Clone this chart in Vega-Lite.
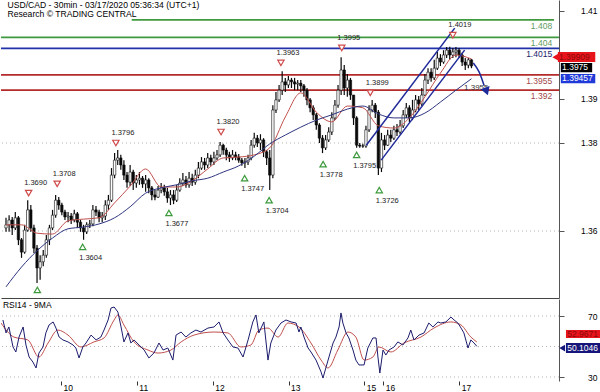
{
"$schema":"https://vega.github.io/schema/vega-lite/v6.json",
"padding":0,
"spacing":1,
"bounds":"flush",
"background":"white",
"config":{"view":{"stroke":null},"font":"Liberation Sans"},
"datasets":{
"candles":[
{"t":0,"o":1.3607,"h":1.3630,"l":1.3598,"c":1.3614},{"t":1,"o":1.3614,"h":1.3636,"l":1.3598,"c":1.3625},{"t":2,"o":1.3625,"h":1.3632,"l":1.3591,"c":1.3607},{"t":3,"o":1.3607,"h":1.3643,"l":1.3602,"c":1.3630},{"t":4,"o":1.3630,"h":1.3634,"l":1.3568,"c":1.3580},{"t":5,"o":1.3580,"h":1.3584,"l":1.3539,"c":1.3552},{"t":6,"o":1.3552,"h":1.3614,"l":1.3548,"c":1.3602},{"t":7,"o":1.3602,"h":1.3670,"l":1.3598,"c":1.3648},{"t":8,"o":1.3648,"h":1.3659,"l":1.3598,"c":1.3607},{"t":9,"o":1.3607,"h":1.3614,"l":1.3550,"c":1.3561},
{"t":10,"o":1.3561,"h":1.3568,"l":1.3482,"c":1.3516},{"t":11,"o":1.3516,"h":1.3545,"l":1.3489,"c":1.3530},{"t":12,"o":1.3530,"h":1.3557,"l":1.3520,"c":1.3545},{"t":13,"o":1.3545,"h":1.3591,"l":1.3539,"c":1.3580},{"t":14,"o":1.3580,"h":1.3614,"l":1.3568,"c":1.3607},{"t":15,"o":1.3607,"h":1.3648,"l":1.3602,"c":1.3636},{"t":16,"o":1.3636,"h":1.3682,"l":1.3630,"c":1.3670},{"t":17,"o":1.3670,"h":1.3677,"l":1.3648,"c":1.3659},{"t":18,"o":1.3659,"h":1.3664,"l":1.3636,"c":1.3643},{"t":19,"o":1.3643,"h":1.3648,"l":1.3625,"c":1.3632},
{"t":20,"o":1.3632,"h":1.3643,"l":1.3620,"c":1.3634},{"t":21,"o":1.3634,"h":1.3641,"l":1.3616,"c":1.3625},{"t":22,"o":1.3625,"h":1.3648,"l":1.3620,"c":1.3639},{"t":23,"o":1.3639,"h":1.3643,"l":1.3607,"c":1.3620},{"t":24,"o":1.3620,"h":1.3625,"l":1.3598,"c":1.3607},{"t":25,"o":1.3607,"h":1.3614,"l":1.3580,"c":1.3598},{"t":26,"o":1.3598,"h":1.3620,"l":1.3593,"c":1.3614},{"t":27,"o":1.3614,"h":1.3625,"l":1.3607,"c":1.3616},{"t":28,"o":1.3616,"h":1.3659,"l":1.3611,"c":1.3648},{"t":29,"o":1.3648,"h":1.3657,"l":1.3634,"c":1.3643},
{"t":30,"o":1.3643,"h":1.3648,"l":1.3620,"c":1.3630},{"t":31,"o":1.3630,"h":1.3643,"l":1.3620,"c":1.3634},{"t":32,"o":1.3634,"h":1.3670,"l":1.3625,"c":1.3659},{"t":33,"o":1.3659,"h":1.3682,"l":1.3648,"c":1.3670},{"t":34,"o":1.3670,"h":1.3743,"l":1.3666,"c":1.3727},{"t":35,"o":1.3727,"h":1.3777,"l":1.3720,"c":1.3761},{"t":36,"o":1.3761,"h":1.3784,"l":1.3750,"c":1.3766},{"t":37,"o":1.3766,"h":1.3773,"l":1.3739,"c":1.3750},{"t":38,"o":1.3750,"h":1.3761,"l":1.3716,"c":1.3727},{"t":39,"o":1.3727,"h":1.3734,"l":1.3698,"c":1.3711},
{"t":40,"o":1.3711,"h":1.3750,"l":1.3702,"c":1.3734},{"t":41,"o":1.3734,"h":1.3739,"l":1.3693,"c":1.3709},{"t":42,"o":1.3709,"h":1.3727,"l":1.3698,"c":1.3716},{"t":43,"o":1.3716,"h":1.3734,"l":1.3705,"c":1.3720},{"t":44,"o":1.3720,"h":1.3725,"l":1.3698,"c":1.3707},{"t":45,"o":1.3707,"h":1.3727,"l":1.3689,"c":1.3716},{"t":46,"o":1.3716,"h":1.3720,"l":1.3686,"c":1.3698},{"t":47,"o":1.3698,"h":1.3702,"l":1.3670,"c":1.3682},{"t":48,"o":1.3682,"h":1.3693,"l":1.3670,"c":1.3677},{"t":49,"o":1.3677,"h":1.3702,"l":1.3675,"c":1.3693},
{"t":50,"o":1.3693,"h":1.3709,"l":1.3686,"c":1.3698},{"t":51,"o":1.3698,"h":1.3705,"l":1.3680,"c":1.3689},{"t":52,"o":1.3689,"h":1.3698,"l":1.3664,"c":1.3675},{"t":53,"o":1.3675,"h":1.3693,"l":1.3659,"c":1.3682},{"t":54,"o":1.3682,"h":1.3693,"l":1.3661,"c":1.3670},{"t":55,"o":1.3670,"h":1.3705,"l":1.3666,"c":1.3693},{"t":56,"o":1.3693,"h":1.3720,"l":1.3689,"c":1.3709},{"t":57,"o":1.3709,"h":1.3732,"l":1.3702,"c":1.3716},{"t":58,"o":1.3716,"h":1.3725,"l":1.3698,"c":1.3705},{"t":59,"o":1.3705,"h":1.3734,"l":1.3698,"c":1.3720},
{"t":60,"o":1.3720,"h":1.3730,"l":1.3702,"c":1.3711},{"t":61,"o":1.3711,"h":1.3739,"l":1.3705,"c":1.3727},{"t":62,"o":1.3727,"h":1.3757,"l":1.3720,"c":1.3743},{"t":63,"o":1.3743,"h":1.3768,"l":1.3739,"c":1.3757},{"t":64,"o":1.3757,"h":1.3766,"l":1.3739,"c":1.3750},{"t":65,"o":1.3750,"h":1.3777,"l":1.3743,"c":1.3766},{"t":66,"o":1.3766,"h":1.3773,"l":1.3748,"c":1.3757},{"t":67,"o":1.3757,"h":1.3780,"l":1.3750,"c":1.3766},{"t":68,"o":1.3766,"h":1.3784,"l":1.3761,"c":1.3773},{"t":69,"o":1.3773,"h":1.3802,"l":1.3768,"c":1.3795},
{"t":70,"o":1.3795,"h":1.3798,"l":1.3773,"c":1.3784},{"t":71,"o":1.3784,"h":1.3789,"l":1.3761,"c":1.3773},{"t":72,"o":1.3773,"h":1.3780,"l":1.3757,"c":1.3766},{"t":73,"o":1.3766,"h":1.3784,"l":1.3761,"c":1.3773},{"t":74,"o":1.3773,"h":1.3780,"l":1.3761,"c":1.3768},{"t":75,"o":1.3768,"h":1.3775,"l":1.3755,"c":1.3761},{"t":76,"o":1.3761,"h":1.3766,"l":1.3748,"c":1.3755},{"t":77,"o":1.3755,"h":1.3766,"l":1.3743,"c":1.3757},{"t":78,"o":1.3757,"h":1.3773,"l":1.3750,"c":1.3766},{"t":79,"o":1.3766,"h":1.3807,"l":1.3761,"c":1.3795},
{"t":80,"o":1.3795,"h":1.3823,"l":1.3789,"c":1.3811},{"t":81,"o":1.3811,"h":1.3818,"l":1.3791,"c":1.3800},{"t":82,"o":1.3800,"h":1.3820,"l":1.3784,"c":1.3807},{"t":83,"o":1.3807,"h":1.3811,"l":1.3768,"c":1.3780},{"t":84,"o":1.3780,"h":1.3784,"l":1.3750,"c":1.3766},{"t":85,"o":1.3766,"h":1.3784,"l":1.3693,"c":1.3727},{"t":86,"o":1.3727,"h":1.3886,"l":1.3720,"c":1.3875},{"t":87,"o":1.3875,"h":1.3916,"l":1.3868,"c":1.3898},{"t":88,"o":1.3898,"h":1.3932,"l":1.3893,"c":1.3920},{"t":89,"o":1.3920,"h":1.3963,"l":1.3909,"c":1.3939},
{"t":90,"o":1.3939,"h":1.3948,"l":1.3916,"c":1.3932},{"t":91,"o":1.3932,"h":1.3952,"l":1.3925,"c":1.3943},{"t":92,"o":1.3943,"h":1.3948,"l":1.3925,"c":1.3939},{"t":93,"o":1.3939,"h":1.3948,"l":1.3920,"c":1.3934},{"t":94,"o":1.3934,"h":1.3943,"l":1.3920,"c":1.3936},{"t":95,"o":1.3936,"h":1.3943,"l":1.3916,"c":1.3930},{"t":96,"o":1.3930,"h":1.3934,"l":1.3905,"c":1.3920},{"t":97,"o":1.3920,"h":1.3925,"l":1.3886,"c":1.3898},{"t":98,"o":1.3898,"h":1.3902,"l":1.3870,"c":1.3880},{"t":99,"o":1.3880,"h":1.3886,"l":1.3852,"c":1.3864},
{"t":100,"o":1.3864,"h":1.3868,"l":1.3830,"c":1.3841},{"t":101,"o":1.3841,"h":1.3845,"l":1.3800,"c":1.3811},{"t":102,"o":1.3811,"h":1.3818,"l":1.3777,"c":1.3789},{"t":103,"o":1.3789,"h":1.3818,"l":1.3784,"c":1.3807},{"t":104,"o":1.3807,"h":1.3836,"l":1.3802,"c":1.3825},{"t":105,"o":1.3825,"h":1.3870,"l":1.3818,"c":1.3857},{"t":106,"o":1.3857,"h":1.3898,"l":1.3852,"c":1.3886},{"t":107,"o":1.3886,"h":1.3932,"l":1.3880,"c":1.3920},{"t":108,"o":1.3920,"h":1.3995,"l":1.3909,"c":1.3966},{"t":109,"o":1.3966,"h":1.3977,"l":1.3909,"c":1.3925},
{"t":110,"o":1.3925,"h":1.3957,"l":1.3905,"c":1.3943},{"t":111,"o":1.3943,"h":1.3948,"l":1.3898,"c":1.3909},{"t":112,"o":1.3909,"h":1.3909,"l":1.3841,"c":1.3857},{"t":113,"o":1.3857,"h":1.3861,"l":1.3789,"c":1.3795},{"t":114,"o":1.3795,"h":1.3800,"l":1.3789,"c":1.3793},{"t":115,"o":1.3793,"h":1.3798,"l":1.3789,"c":1.3793},{"t":116,"o":1.3793,"h":1.3839,"l":1.3789,"c":1.3830},{"t":117,"o":1.3830,"h":1.3886,"l":1.3825,"c":1.3875},{"t":118,"o":1.3875,"h":1.3898,"l":1.3870,"c":1.3886},{"t":119,"o":1.3886,"h":1.3891,"l":1.3857,"c":1.3870},
{"t":120,"o":1.3870,"h":1.3875,"l":1.3727,"c":1.3743},{"t":121,"o":1.3743,"h":1.3823,"l":1.3734,"c":1.3807},{"t":122,"o":1.3807,"h":1.3818,"l":1.3784,"c":1.3795},{"t":123,"o":1.3795,"h":1.3830,"l":1.3793,"c":1.3818},{"t":124,"o":1.3818,"h":1.3830,"l":1.3802,"c":1.3811},{"t":125,"o":1.3811,"h":1.3839,"l":1.3807,"c":1.3830},{"t":126,"o":1.3830,"h":1.3843,"l":1.3816,"c":1.3825},{"t":127,"o":1.3825,"h":1.3852,"l":1.3820,"c":1.3839},{"t":128,"o":1.3839,"h":1.3875,"l":1.3834,"c":1.3864},{"t":129,"o":1.3864,"h":1.3891,"l":1.3857,"c":1.3880},
{"t":130,"o":1.3880,"h":1.3886,"l":1.3848,"c":1.3857},{"t":131,"o":1.3857,"h":1.3898,"l":1.3852,"c":1.3875},{"t":132,"o":1.3875,"h":1.3909,"l":1.3870,"c":1.3898},{"t":133,"o":1.3898,"h":1.3907,"l":1.3875,"c":1.3889},{"t":134,"o":1.3889,"h":1.3925,"l":1.3884,"c":1.3909},{"t":135,"o":1.3909,"h":1.3957,"l":1.3907,"c":1.3943},{"t":136,"o":1.3943,"h":1.3970,"l":1.3934,"c":1.3961},{"t":137,"o":1.3961,"h":1.3970,"l":1.3939,"c":1.3948},{"t":138,"o":1.3948,"h":1.3989,"l":1.3943,"c":1.3970},{"t":139,"o":1.3970,"h":1.4007,"l":1.3966,"c":1.3993},
{"t":140,"o":1.3993,"h":1.4002,"l":1.3975,"c":1.3984},{"t":141,"o":1.3984,"h":1.4011,"l":1.3980,"c":1.4000},{"t":142,"o":1.4000,"h":1.4018,"l":1.3993,"c":1.4011},{"t":143,"o":1.4011,"h":1.4019,"l":1.3989,"c":1.4000},{"t":144,"o":1.4000,"h":1.4016,"l":1.3993,"c":1.4007},{"t":145,"o":1.4007,"h":1.4018,"l":1.3995,"c":1.4011},{"t":146,"o":1.4011,"h":1.4016,"l":1.3993,"c":1.4000},{"t":147,"o":1.4000,"h":1.4005,"l":1.3975,"c":1.3984},{"t":148,"o":1.3984,"h":1.3993,"l":1.3966,"c":1.3977},{"t":149,"o":1.3977,"h":1.3993,"l":1.3970,"c":1.3989},
{"t":150,"o":1.3989,"h":1.3991,"l":1.3970,"c":1.3975}
],
"ma":[
{"t":0,"a":1.3614,"b":1.3473},{"t":5,"a":1.3614,"b":1.3518},{"t":10,"a":1.3595,"b":1.3555},{"t":15,"a":1.3593,"b":1.3584},{"t":20,"a":1.3623,"b":1.3605},{"t":25,"a":1.3627,"b":1.3609},{"t":30,"a":1.3630,"b":1.3616},{"t":35,"a":1.3664,"b":1.3630},{"t":40,"a":1.3702,"b":1.3655},{"t":45,"a":1.3741,"b":1.3686},{"t":50,"a":1.3700,"b":1.3698},{"t":55,"a":1.3700,"b":1.3705},{"t":60,"a":1.3714,"b":1.3714},{"t":65,"a":1.3741,"b":1.3720},{"t":70,"a":1.3766,"b":1.3734},{"t":75,"a":1.3768,"b":1.3748},{"t":80,"a":1.3773,"b":1.3770},{"t":85,"a":1.3789,"b":1.3798},{"t":90,"a":1.3859,"b":1.3818},{"t":95,"a":1.3914,"b":1.3836},{"t":100,"a":1.3870,"b":1.3852},{"t":105,"a":1.3848,"b":1.3864},{"t":110,"a":1.3884,"b":1.3877},{"t":115,"a":1.3880,"b":1.3884},{"t":120,"a":1.3839,"b":1.3866},{"t":125,"a":1.3834,"b":1.3857},{"t":130,"a":1.3857,"b":1.3857},{"t":135,"a":1.3905,"b":1.3868},{"t":140,"a":1.3959,"b":1.3893},{"t":145,"a":1.4000,"b":1.3920},{"t":150,"a":1.3991,"b":1.3946}
],
"levels":[{"v":1.408,"label":"1.408","kind":"g"},{"v":1.404,"label":"1.404","kind":"g"},{"v":1.4015,"label":"1.4015","kind":"b"},{"v":1.3955,"label":"1.3955","kind":"r"},{"v":1.392,"label":"1.392","kind":"r"}],
"peaks":[{"t":7.3,"v":1.3686,"label":"1.3690"},{"t":16.5,"v":1.3707,"label":"1.3708"},{"t":35.4,"v":1.3800,"label":"1.3796"},{"t":69.3,"v":1.3825,"label":"1.3820"},{"t":88.6,"v":1.3982,"label":"1.3963"},{"t":108.2,"v":1.4016,"label":"1.3995"},{"t":117.4,"v":1.3914,"label":"1.3899"},{"t":144.0,"v":1.4045,"label":"1.4019"}],
"troughs":[{"t":10.1,"v":1.3466,"label":""},{"t":24.7,"v":1.3564,"label":"1.3604"},{"t":52.5,"v":1.3641,"label":"1.3677"},{"t":76.9,"v":1.3720,"label":"1.3747"},{"t":84.8,"v":1.3670,"label":"1.3704"},{"t":102.2,"v":1.3752,"label":"1.3778"},{"t":113.0,"v":1.3773,"label":"1.3795"},{"t":120.3,"v":1.3693,"label":"1.3726"}],
"channel":[{"line":"upper","t":116.1,"v":1.3795},{"line":"upper","t":144.6,"v":1.4061},{"line":"lower","t":120.9,"v":1.3761},{"line":"lower","t":147.8,"v":1.4011}],
"arrow":[{"t":150.6,"v":1.3982},{"t":152.5,"v":1.3961},{"t":154.1,"v":1.3930}],
"rsi":[
{"t":0.6,"r":67.4},{"t":1.6,"r":58.9},{"t":2.5,"r":62.8},{"t":3.8,"r":49.7},{"t":4.7,"r":46.4},{"t":5.7,"r":56.2},{"t":7.0,"r":62.8},{"t":7.9,"r":51.0},{"t":8.9,"r":43.1},{"t":10.1,"r":39.8},{"t":11.1,"r":35.9},{"t":12.0,"r":45.7},{"t":13.3,"r":49.7},{"t":14.2,"r":58.9},{"t":15.2,"r":64.1},{"t":16.5,"r":66.1},{"t":17.4,"r":62.1},{"t":18.4,"r":56.2},{"t":19.6,"r":54.3},{"t":21.2,"r":53.0},{"t":22.8,"r":51.0},{"t":23.7,"r":49.0},{"t":24.7,"r":42.5},{"t":25.9,"r":49.7},{"t":26.9,"r":52.3},{"t":28.5,"r":57.5},{"t":30.1,"r":54.3},{"t":31.6,"r":56.2},{"t":32.6,"r":60.8},{"t":33.9,"r":67.4},{"t":34.8,"r":75.2},{"t":35.8,"r":75.9},{"t":37.0,"r":72.6},{"t":38.0,"r":62.8},{"t":38.9,"r":53.0},{"t":40.2,"r":58.9},{"t":41.1,"r":52.3},{"t":42.1,"r":54.3},{"t":43.7,"r":51.0},{"t":45.3,"r":47.7},{"t":46.8,"r":42.5},{"t":48.4,"r":45.7},{"t":50.0,"r":52.3},{"t":51.3,"r":47.7},{"t":52.8,"r":49.0},{"t":54.4,"r":41.1},{"t":55.4,"r":57.5},{"t":57.0,"r":59.5},{"t":58.5,"r":56.2},{"t":60.1,"r":58.9},{"t":61.7,"r":60.8},{"t":63.3,"r":59.5},{"t":65.5,"r":62.1},{"t":67.4,"r":62.8},{"t":69.0,"r":66.1},{"t":70.3,"r":58.9},{"t":71.8,"r":54.3},{"t":73.4,"r":49.7},{"t":75.0,"r":49.0},{"t":76.6,"r":43.1},{"t":78.2,"r":54.3},{"t":79.7,"r":66.1},{"t":80.7,"r":70.7},{"t":81.6,"r":58.9},{"t":83.2,"r":66.1},{"t":84.5,"r":41.1},{"t":85.4,"r":52.3},{"t":87.0,"r":60.8},{"t":88.6,"r":65.4},{"t":90.2,"r":67.4},{"t":91.8,"r":66.1},{"t":93.4,"r":65.4},{"t":94.3,"r":59.5},{"t":94.9,"r":62.8},{"t":95.9,"r":56.2},{"t":97.2,"r":49.0},{"t":98.1,"r":46.4},{"t":99.7,"r":41.1},{"t":101.3,"r":33.3},{"t":101.9,"r":29.3},{"t":102.8,"r":35.9},{"t":103.8,"r":43.1},{"t":105.1,"r":52.3},{"t":106.0,"r":56.2},{"t":107.0,"r":62.8},{"t":107.6,"r":72.0},{"t":108.2,"r":65.4},{"t":109.2,"r":58.9},{"t":110.1,"r":55.6},{"t":111.4,"r":47.7},{"t":112.3,"r":41.1},{"t":113.3,"r":37.9},{"t":114.9,"r":37.9},{"t":116.1,"r":49.0},{"t":117.7,"r":55.6},{"t":118.7,"r":55.6},{"t":119.3,"r":43.1},{"t":119.9,"r":32.6},{"t":120.9,"r":47.7},{"t":121.8,"r":44.4},{"t":122.8,"r":47.7},{"t":124.4,"r":49.7},{"t":125.6,"r":53.0},{"t":127.2,"r":51.0},{"t":128.8,"r":55.6},{"t":129.7,"r":60.8},{"t":130.7,"r":54.3},{"t":132.3,"r":57.5},{"t":133.9,"r":58.9},{"t":135.4,"r":65.4},{"t":136.7,"r":62.8},{"t":138.3,"r":66.1},{"t":139.2,"r":65.4},{"t":140.8,"r":66.1},{"t":142.4,"r":69.3},{"t":143.4,"r":67.4},{"t":144.6,"r":65.4},{"t":145.6,"r":62.1},{"t":146.5,"r":58.9},{"t":147.8,"r":49.0},{"t":148.7,"r":54.3},{"t":149.7,"r":52.3},{"t":150.6,"r":50.1}
],
"rsima":[
{"t":0,"m":65.4},{"t":4.1,"m":56.2},{"t":8.5,"m":54.3},{"t":12.0,"m":43.1},{"t":14.9,"m":52.3},{"t":18.0,"m":60.8},{"t":21.2,"m":57.5},{"t":25.3,"m":49.7},{"t":29.4,"m":53.0},{"t":32.6,"m":55.6},{"t":35.8,"m":67.4},{"t":37.0,"m":70.7},{"t":38.9,"m":64.1},{"t":42.1,"m":53.0},{"t":46.5,"m":47.7},{"t":49.7,"m":45.7},{"t":53.8,"m":47.7},{"t":57.0,"m":53.0},{"t":61.1,"m":57.5},{"t":67.4,"m":59.5},{"t":71.8,"m":58.9},{"t":75.9,"m":49.7},{"t":79.1,"m":51.0},{"t":81.6,"m":60.8},{"t":84.5,"m":62.1},{"t":87.7,"m":56.2},{"t":90.8,"m":65.4},{"t":94.3,"m":62.8},{"t":98.1,"m":52.3},{"t":101.3,"m":41.1},{"t":103.5,"m":35.9},{"t":106.6,"m":47.7},{"t":109.8,"m":59.5},{"t":112.3,"m":56.2},{"t":114.9,"m":41.1},{"t":117.7,"m":43.1},{"t":119.6,"m":49.7},{"t":123.4,"m":46.4},{"t":127.5,"m":52.3},{"t":132.9,"m":56.2},{"t":137.0,"m":62.1},{"t":142.4,"m":66.1},{"t":145.6,"m":64.1},{"t":148.7,"m":56.2},{"t":150.6,"m":52.97}
]
},
"vconcat":[
{
"width":558,"height":298,
"layer":[
{"data":{"name":"candles"},"mark":{"type":"rule","color":"#111111","strokeWidth":1,"clip":true},
 "encoding":{"x":{"field":"t","type":"quantitative","scale":{"domain":[0,176.6],"nice":false,"zero":false},"title":null,"axis":{"orient":"bottom","labels":false,"ticks":false,"grid":false,"domain":true,"domainColor":"#444444","title":null}},
  "y":{"field":"l","type":"quantitative","scale":{"domain":[1.34477,1.4125],"nice":false,"zero":false},"title":null,"axis":{"orient":"right","values":[1.36,1.38,1.39,1.41],"format":".2f","grid":false,"tickSize":5,"tickColor":"#555555","domainColor":"#555555","labelAlign":"right","labelPadding":33,"labelFontSize":8.5,"labelColor":"#000000","title":null}},
  "y2":{"field":"h"},"opacity":{"value":0}}},
{"data":{"values":[{"v":1.36},{"v":1.38}]},"mark":{"type":"rule","color":"#b5b5b5","strokeDash":[1,3],"strokeWidth":1},
 "encoding":{"y":{"field":"v","type":"quantitative","scale":{"domain":[1.34477,1.4125],"nice":false,"zero":false},"title":null}}},
{"data":{"name":"levels"},"transform":[{"filter":"datum.v < 1.406"}],"mark":{"type":"rule","strokeWidth":1.8},
 "encoding":{"y":{"field":"v","type":"quantitative","scale":{"domain":[1.34477,1.4125],"nice":false,"zero":false},"title":null},
  "color":{"field":"kind","type":"nominal","scale":{"domain":["g","b","r"],"range":["#3f9a3f","#2233aa","#b52a2a"]},"legend":null}}},
{"data":{"name":"levels"},"transform":[{"filter":"datum.v > 1.406"}],"mark":{"type":"rule","strokeWidth":1.8},
 "encoding":{"y":{"field":"v","type":"quantitative","scale":{"domain":[1.34477,1.4125],"nice":false,"zero":false},"title":null},
  "x":{"datum":40.5,"type":"quantitative","scale":{"domain":[0,176.6],"nice":false,"zero":false}},"x2":{"datum":176.6},
  "color":{"field":"kind","type":"nominal","scale":{"domain":["g","b","r"],"range":["#3f9a3f","#2233aa","#b52a2a"]},"legend":null}}},
{"data":{"name":"levels"},"mark":{"type":"text","align":"right","baseline":"middle","dy":6,"fontSize":8.5},
 "encoding":{"x":{"datum":176.0,"type":"quantitative","scale":{"domain":[0,176.6],"nice":false,"zero":false}},
  "y":{"field":"v","type":"quantitative","scale":{"domain":[1.34477,1.4125],"nice":false,"zero":false},"title":null},
  "text":{"field":"label"},
  "fill":{"field":"kind","type":"nominal","scale":{"domain":["g","b","r"],"range":["#5f9a5f","#22226a","#a04848"]},"legend":null}}},
{"data":{"name":"candles"},"mark":{"type":"rule","color":"#0a0a0a","strokeWidth":1.2,"clip":true},
 "encoding":{"x":{"field":"t","type":"quantitative","scale":{"domain":[0,176.6],"nice":false,"zero":false},"title":null},
  "y":{"field":"l","type":"quantitative","scale":{"domain":[1.34477,1.4125],"nice":false,"zero":false},"title":null},
  "y2":{"field":"h"}}},
{"data":{"name":"candles"},"mark":{"type":"bar","size":2.4,"stroke":"#0a0a0a","strokeWidth":0.6,"clip":true},
 "encoding":{"x":{"field":"t","type":"quantitative","scale":{"domain":[0,176.6],"nice":false,"zero":false},"title":null},
  "y":{"field":"o","type":"quantitative","scale":{"domain":[1.34477,1.4125],"nice":false,"zero":false},"title":null},
  "y2":{"field":"c"},
  "fill":{"condition":{"test":"datum.c > datum.o","value":"#ffffff"},"value":"#0a0a0a"}}},
{"data":{"name":"ma"},"mark":{"type":"line","color":"#c0504d","strokeWidth":1,"interpolate":"monotone","clip":true},
 "encoding":{"x":{"field":"t","type":"quantitative","scale":{"domain":[0,176.6],"nice":false,"zero":false},"title":null},
  "y":{"field":"a","type":"quantitative","scale":{"domain":[1.34477,1.4125],"nice":false,"zero":false},"title":null}}},
{"data":{"name":"ma"},"mark":{"type":"line","color":"#2e3580","strokeWidth":1,"interpolate":"monotone","clip":true},
 "encoding":{"x":{"field":"t","type":"quantitative","scale":{"domain":[0,176.6],"nice":false,"zero":false},"title":null},
  "y":{"field":"b","type":"quantitative","scale":{"domain":[1.34477,1.4125],"nice":false,"zero":false},"title":null}}},
{"data":{"name":"channel"},"mark":{"type":"line","color":"#1f2a9a","strokeWidth":1.5},
 "encoding":{"x":{"field":"t","type":"quantitative","scale":{"domain":[0,176.6],"nice":false,"zero":false},"title":null},
  "y":{"field":"v","type":"quantitative","scale":{"domain":[1.34477,1.4125],"nice":false,"zero":false},"title":null},
  "detail":{"field":"line"}}},
{"data":{"name":"arrow"},"mark":{"type":"line","color":"#1f2a9a","strokeWidth":1.5,"interpolate":"monotone"},
 "encoding":{"x":{"field":"t","type":"quantitative","scale":{"domain":[0,176.6],"nice":false,"zero":false},"title":null},
  "y":{"field":"v","type":"quantitative","scale":{"domain":[1.34477,1.4125],"nice":false,"zero":false},"title":null}}},
{"data":{"values":[{"t":147.6,"v":1.3925,"label":"1.3955"}]},"mark":{"type":"text","align":"left","baseline":"middle","fontSize":8,"color":"#333333"},
 "encoding":{"x":{"field":"t","type":"quantitative","scale":{"domain":[0,176.6],"nice":false,"zero":false},"title":null},
  "y":{"field":"v","type":"quantitative","scale":{"domain":[1.34477,1.4125],"nice":false,"zero":false},"title":null},
  "text":{"field":"label"}}},
{"data":{"values":[{"t":154.7,"v":1.3920}]},"mark":{"type":"point","shape":"triangle","angle":160,"filled":true,"size":90,"color":"#1f2a9a","opacity":1},
 "encoding":{"x":{"field":"t","type":"quantitative","scale":{"domain":[0,176.6],"nice":false,"zero":false},"title":null},
  "y":{"field":"v","type":"quantitative","scale":{"domain":[1.34477,1.4125],"nice":false,"zero":false},"title":null}}},
{"data":{"name":"peaks"},"mark":{"type":"point","shape":"triangle-down","filled":true,"fill":"#ffffff","stroke":"#d04a4a","strokeWidth":1.2,"size":40,"opacity":1},
 "encoding":{"x":{"field":"t","type":"quantitative","scale":{"domain":[0,176.6],"nice":false,"zero":false},"title":null},
  "y":{"field":"v","type":"quantitative","scale":{"domain":[1.34477,1.4125],"nice":false,"zero":false},"title":null}}},
{"data":{"name":"peaks"},"mark":{"type":"text","dx":7,"dy":-10,"fontSize":7.5,"color":"#222222","baseline":"middle","align":"center"},
 "encoding":{"x":{"field":"t","type":"quantitative","scale":{"domain":[0,176.6],"nice":false,"zero":false},"title":null},
  "y":{"field":"v","type":"quantitative","scale":{"domain":[1.34477,1.4125],"nice":false,"zero":false},"title":null},
  "text":{"field":"label"}}},
{"data":{"name":"troughs"},"mark":{"type":"point","shape":"triangle-up","filled":true,"fill":"#ffffff","stroke":"#3c9a3c","strokeWidth":1.2,"size":40,"opacity":1},
 "encoding":{"x":{"field":"t","type":"quantitative","scale":{"domain":[0,176.6],"nice":false,"zero":false},"title":null},
  "y":{"field":"v","type":"quantitative","scale":{"domain":[1.34477,1.4125],"nice":false,"zero":false},"title":null}}},
{"data":{"name":"troughs"},"transform":[{"filter":"datum.label != ''"}],"mark":{"type":"text","dx":8,"dy":11,"fontSize":7.5,"color":"#222222","baseline":"middle","align":"center"},
 "encoding":{"x":{"field":"t","type":"quantitative","scale":{"domain":[0,176.6],"nice":false,"zero":false},"title":null},
  "y":{"field":"v","type":"quantitative","scale":{"domain":[1.34477,1.4125],"nice":false,"zero":false},"title":null},
  "text":{"field":"label"}}},
{"data":{"values":[{"label":"USD/CAD - 30min - 03/17/2020 05:36:34 (UTC+1)\nResearch © TRADING CENTRAL"}]},
 "mark":{"type":"text","align":"left","baseline":"top","fontSize":8.6,"lineHeight":9.5,"lineBreak":"\n","color":"#000000"},
 "encoding":{"x":{"datum":0.5,"type":"quantitative","scale":{"domain":[0,176.6],"nice":false,"zero":false}},
  "y":{"datum":1.4123,"type":"quantitative","scale":{"domain":[1.34477,1.4125],"nice":false,"zero":false}},
  "text":{"field":"label"}}},
{"data":{"values":[{"label":"1.39909"}]},"mark":{"type":"rect","color":"#e8141c"},
 "encoding":{"x":{"datum":177.85,"type":"quantitative","scale":{"domain":[0,176.6],"nice":false,"zero":false}},"x2":{"datum":189.9},
  "y":{"datum":1.4007,"type":"quantitative","scale":{"domain":[1.34477,1.4125],"nice":false,"zero":false}},"y2":{"datum":1.3984}}},
{"data":{"values":[{"label":"1.39909"}]},"mark":{"type":"point","shape":"triangle-left","filled":true,"size":45,"color":"#e8141c","opacity":1},
 "encoding":{"x":{"datum":177.0,"type":"quantitative","scale":{"domain":[0,176.6],"nice":false,"zero":false}},
  "y":{"datum":1.3995,"type":"quantitative","scale":{"domain":[1.34477,1.4125],"nice":false,"zero":false}}}},
{"data":{"values":[{"label":"1.39909"}]},"mark":{"type":"text","align":"left","baseline":"middle","fontSize":8.5,"color":"#8a0a0a"},
 "encoding":{"x":{"datum":178.2,"type":"quantitative","scale":{"domain":[0,176.6],"nice":false,"zero":false}},
  "y":{"datum":1.3995,"type":"quantitative","scale":{"domain":[1.34477,1.4125],"nice":false,"zero":false}},
  "text":{"field":"label"}}},
{"data":{"values":[{"label":"1.3975"}]},"mark":{"type":"rect","color":"#000000"},
 "encoding":{"x":{"datum":178.8,"type":"quantitative","scale":{"domain":[0,176.6],"nice":false,"zero":false}},"x2":{"datum":188.9},
  "y":{"datum":1.3982,"type":"quantitative","scale":{"domain":[1.34477,1.4125],"nice":false,"zero":false}},"y2":{"datum":1.3961}}},
{"data":{"values":[{"label":"1.3975"}]},"mark":{"type":"text","align":"left","baseline":"middle","fontSize":8.5,"color":"#ffffff"},
 "encoding":{"x":{"datum":179.2,"type":"quantitative","scale":{"domain":[0,176.6],"nice":false,"zero":false}},
  "y":{"datum":1.39716,"type":"quantitative","scale":{"domain":[1.34477,1.4125],"nice":false,"zero":false}},
  "text":{"field":"label"}}},
{"data":{"values":[{"label":"1.39457"}]},"mark":{"type":"rect","color":"#1f3ad8"},
 "encoding":{"x":{"datum":178.8,"type":"quantitative","scale":{"domain":[0,176.6],"nice":false,"zero":false}},"x2":{"datum":189.9},
  "y":{"datum":1.3957,"type":"quantitative","scale":{"domain":[1.34477,1.4125],"nice":false,"zero":false}},"y2":{"datum":1.3936}}},
{"data":{"values":[{"label":"1.39457"}]},"mark":{"type":"text","align":"left","baseline":"middle","fontSize":8.5,"color":"#ffffff"},
 "encoding":{"x":{"datum":179.2,"type":"quantitative","scale":{"domain":[0,176.6],"nice":false,"zero":false}},
  "y":{"datum":1.39466,"type":"quantitative","scale":{"domain":[1.34477,1.4125],"nice":false,"zero":false}},
  "text":{"field":"label"}}}
]
},
{
"width":558,"height":82,
"layer":[
{"data":{"name":"rsi"},"mark":{"type":"line","color":"#1c1c6e","strokeWidth":1,"opacity":0},
 "encoding":{"x":{"field":"t","type":"quantitative","scale":{"domain":[0,176.6],"nice":false,"zero":false},"title":null,
   "axis":{"orient":"bottom","values":[19,43,67,91,115,121,145],"labelExpr":"datum.value==19?'10':datum.value==43?'11':datum.value==67?'12':datum.value==91?'13':datum.value==115?'15':datum.value==121?'16':'17'","domain":false,"ticks":true,"tickSize":4,"tickColor":"#333333","labelAlign":"left","labelOffset":2,"labelPadding":-2,"labelBaseline":"top","labelFontSize":8.5,"labelColor":"#000000","labelOverlap":false,"labelFlush":false,"grid":false,"title":null}},
  "y":{"field":"r","type":"quantitative","scale":{"domain":[27.38,81.15],"nice":false,"zero":false},"title":null,
   "axis":{"orient":"right","values":[30,70],"grid":false,"tickSize":5,"tickColor":"#555555","domainColor":"#555555","labelAlign":"right","labelPadding":33,"labelFontSize":8.5,"labelColor":"#000000","title":null}}}},
{"data":{"values":[{"r":30},{"r":50},{"r":70}]},"mark":{"type":"rule","color":"#b5b5b5","strokeDash":[1,3],"strokeWidth":1},
 "encoding":{"y":{"field":"r","type":"quantitative","scale":{"domain":[27.38,81.15],"nice":false,"zero":false},"title":null}}},
{"data":{"name":"rsima"},"mark":{"type":"line","color":"#c0504d","strokeWidth":1,"interpolate":"monotone","clip":true},
 "encoding":{"x":{"field":"t","type":"quantitative","scale":{"domain":[0,176.6],"nice":false,"zero":false},"title":null},
  "y":{"field":"m","type":"quantitative","scale":{"domain":[27.38,81.15],"nice":false,"zero":false},"title":null}}},
{"data":{"name":"rsi"},"mark":{"type":"line","color":"#1c1c6e","strokeWidth":1,"clip":true},
 "encoding":{"x":{"field":"t","type":"quantitative","scale":{"domain":[0,176.6],"nice":false,"zero":false},"title":null},
  "y":{"field":"r","type":"quantitative","scale":{"domain":[27.38,81.15],"nice":false,"zero":false},"title":null}}},
{"data":{"values":[{"label":"RSI14 - 9MA"}]},"mark":{"type":"text","align":"left","baseline":"middle","fontSize":8.5,"color":"#000000"},
 "encoding":{"x":{"datum":0.6,"type":"quantitative","scale":{"domain":[0,176.6],"nice":false,"zero":false}},
  "y":{"datum":77.2,"type":"quantitative","scale":{"domain":[27.38,81.15],"nice":false,"zero":false}},
  "text":{"field":"label"}}},
{"data":{"values":[{"label":"52.9671"}]},"mark":{"type":"rect","color":"#e8141c"},
 "encoding":{"x":{"datum":178.8,"type":"quantitative","scale":{"domain":[0,176.6],"nice":false,"zero":false}},"x2":{"datum":189.9},
  "y":{"datum":60.82,"type":"quantitative","scale":{"domain":[27.38,81.15],"nice":false,"zero":false}},"y2":{"datum":55.57}}},
{"data":{"values":[{"label":"52.9671"}]},"mark":{"type":"text","align":"left","baseline":"middle","fontSize":8.5,"color":"#8a0a0a"},
 "encoding":{"x":{"datum":179.2,"type":"quantitative","scale":{"domain":[0,176.6],"nice":false,"zero":false}},
  "y":{"datum":58.2,"type":"quantitative","scale":{"domain":[27.38,81.15],"nice":false,"zero":false}},
  "text":{"field":"label"}}},
{"data":{"values":[{"label":"50.1046"}]},"mark":{"type":"rect","color":"#16167a"},
 "encoding":{"x":{"datum":178.8,"type":"quantitative","scale":{"domain":[0,176.6],"nice":false,"zero":false}},"x2":{"datum":189.9},
  "y":{"datum":52.3,"type":"quantitative","scale":{"domain":[27.38,81.15],"nice":false,"zero":false}},"y2":{"datum":45.74}}},
{"data":{"values":[{"label":"50.1046"}]},"mark":{"type":"point","shape":"triangle-left","filled":true,"size":45,"color":"#16167a","opacity":1},
 "encoding":{"x":{"datum":177.6,"type":"quantitative","scale":{"domain":[0,176.6],"nice":false,"zero":false}},
  "y":{"datum":49.0,"type":"quantitative","scale":{"domain":[27.38,81.15],"nice":false,"zero":false}}}},
{"data":{"values":[{"label":"50.1046"}]},"mark":{"type":"text","align":"left","baseline":"middle","fontSize":8.5,"color":"#ffffff"},
 "encoding":{"x":{"datum":179.2,"type":"quantitative","scale":{"domain":[0,176.6],"nice":false,"zero":false}},
  "y":{"datum":49.0,"type":"quantitative","scale":{"domain":[27.38,81.15],"nice":false,"zero":false}},
  "text":{"field":"label"}}}
]
}
]
}
